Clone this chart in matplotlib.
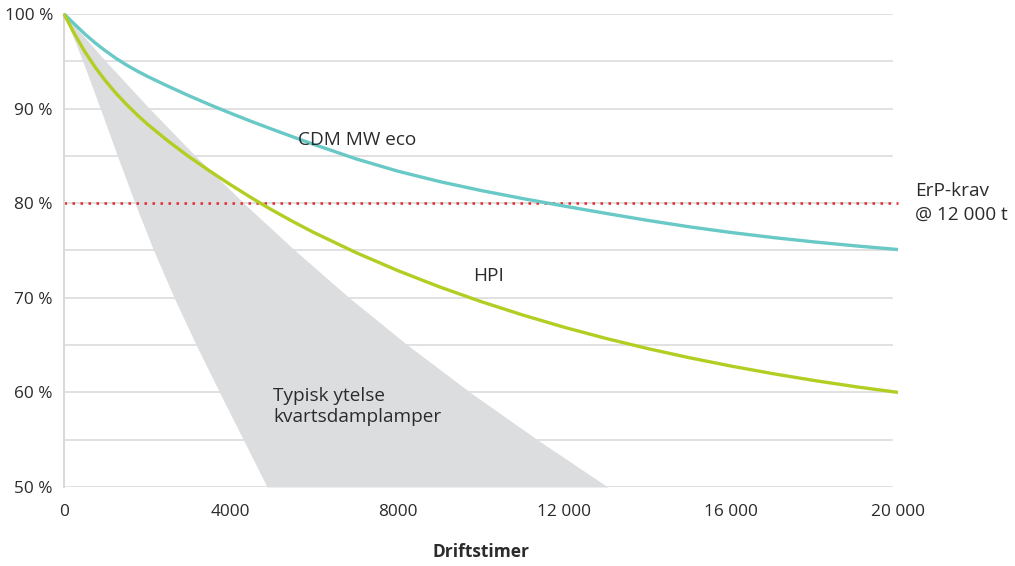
import numpy as np
import matplotlib.pyplot as plt

plt.rcParams['font.family'] = ['Open Sans', 'DejaVu Sans']

# driftstimer (hours) and relative luminous flux (%)
hours = [0, 250, 500, 750, 1000, 1250, 1500, 1750, 2000, 2500, 3000, 3500, 4000,
         4500, 5000, 5500, 6000, 7000, 8000, 9000, 10000, 11000, 12000, 13000,
         14000, 15000, 16000, 17000, 18000, 19000, 20000]
cdm = [100, 98.93, 97.88, 96.93, 96.08, 95.3, 94.6, 93.98, 93.4, 92.35, 91.35, 90.4, 89.5,
       88.63, 87.8, 86.99, 86.2, 84.69, 83.39, 82.29, 81.34, 80.49, 79.69, 78.92,
       78.18, 77.5, 76.9, 76.37, 75.9, 75.48, 75.1]
hpi = [100, 97.9, 96.0, 94.35, 92.9, 91.6, 90.43, 89.35, 88.35, 86.55, 84.9, 83.38, 81.93,
       80.55, 79.25, 78.03, 76.88, 74.78, 72.88, 71.16, 69.6, 68.18, 66.88, 65.7,
       64.63, 63.66, 62.78, 61.98, 61.25, 60.59, 60.0]

# band for typical mercury vapour lamps
band_y = [100, 95, 90, 85, 80, 75, 70, 65, 60, 55, 50]
band_left = [0, 450, 870, 1280, 1700, 2150, 2640, 3170, 3730, 4300, 4870]
band_right = [0, 1000, 2050, 3150, 4310, 5540, 6840, 8240, 9740, 11350, 13040]

erp_level = 80
yticks = [50, 60, 70, 80, 90, 100]
xticks = [0, 4000, 8000, 12000, 16000, 20000]
xticklabels = ['0', '4000', '8000', '12 000', '16 000', '20 000']

txt = '#2b2b2b'
fig = plt.figure(figsize=(10.15, 5.66), dpi=100)
ax = fig.add_axes([0.0631, 0.1396, 0.8216, 0.8357])

for g in range(50, 101, 5):
    ax.axhline(g, xmin=0, xmax=0.993, color='#d9d9d9', lw=1.1, zorder=0)

ax.fill_betweenx(band_y, band_left, band_right, color='#dcdddf', lw=0, zorder=1)
ax.axhline(erp_level, color='#e8262d', lw=1.8, ls=(0, (1, 2.2)), zorder=2, clip_on=False)
ax.plot(hours, cdm, color='#68c9c6', lw=2.4, zorder=3, solid_capstyle='butt', clip_on=False)
ax.plot(hours, hpi, color='#b3cd23', lw=2.4, zorder=3, solid_capstyle='butt', clip_on=False)

ax.set_xlim(0, 20000)
ax.set_ylim(50, 100)
for s in ['top', 'right', 'bottom']:
    ax.spines[s].set_visible(False)
ax.spines['left'].set_color('#d9d9d9')
ax.spines['left'].set_linewidth(1.5)

ax.set_yticks(yticks)
ax.set_yticklabels([f'{v} %' for v in yticks], fontsize=12.4, color=txt)
ax.set_xticks(xticks)
ax.set_xticklabels(xticklabels, fontsize=12.4, color=txt)
ax.tick_params(length=0)
ax.tick_params(axis='y', pad=8)
ax.tick_params(axis='x', pad=12)

ax.set_xlabel('Driftstimer', fontsize=12.5, fontweight='bold', color=txt, labelpad=17)

ax.text(5610, 86.65, 'CDM MW eco', fontsize=13.7, color=txt, va='center')
ax.text(9810, 72.25, 'HPI', fontsize=13.7, color=txt, va='center')
ax.text(5010, 58.5, 'Typisk ytelse\nkvartsdamplamper', fontsize=13.7, color=txt,
        va='center', linespacing=1.24)
ax.text(20400, 80, 'ErP-krav\n@ 12 000 t', fontsize=13.7, color=txt, va='center',
        linespacing=1.42, clip_on=False)

fig.savefig('out.png', dpi=100)
